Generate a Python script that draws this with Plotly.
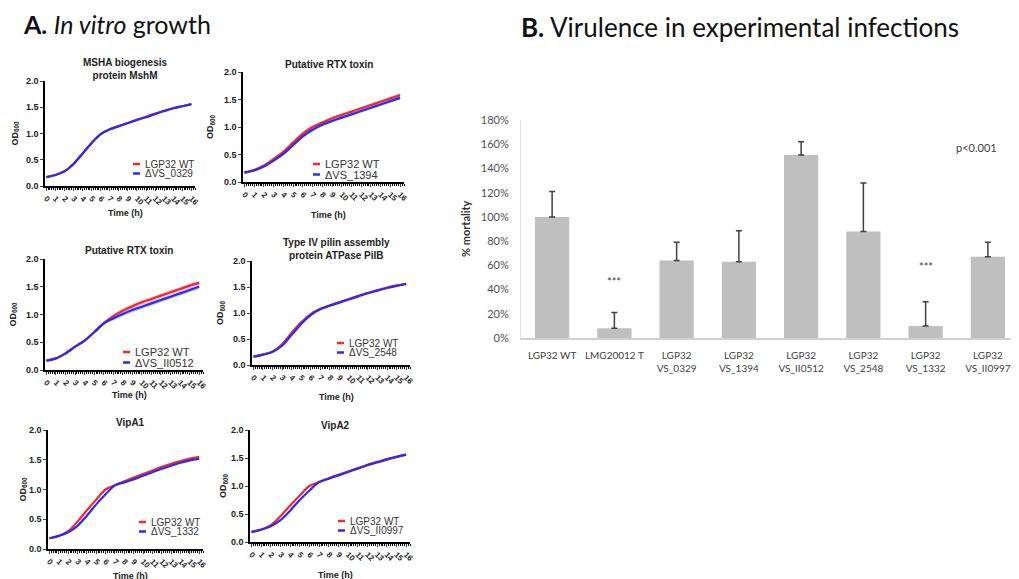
import plotly.graph_objects as go

W, H = 1019, 579
OFF = 8  # the page body adds an 8px margin around the plot div

# ---- panel A: growth curves, OD600 ----
HOURS = list(range(17))

wt_0329 = [0.17, 0.21, 0.28, 0.42, 0.62, 0.82, 0.99, 1.08, 1.14, 1.20, 1.26, 1.32, 1.38, 1.43, 1.48, 1.52, 1.56]
mut_0329 = [0.17, 0.21, 0.28, 0.42, 0.62, 0.82, 0.99, 1.08, 1.14, 1.20, 1.26, 1.31, 1.37, 1.43, 1.48, 1.52, 1.56]

wt_1394 = [0.17, 0.22, 0.30, 0.42, 0.55, 0.72, 0.88, 1.00, 1.08, 1.16, 1.22, 1.28, 1.34, 1.40, 1.46, 1.52, 1.58]
mut_1394 = [0.17, 0.21, 0.28, 0.39, 0.51, 0.67, 0.83, 0.95, 1.04, 1.11, 1.17, 1.23, 1.29, 1.35, 1.41, 1.47, 1.53]
sd_1394 = [0.01, 0.01, 0.01, 0.02, 0.02, 0.02, 0.03, 0.03, 0.03, 0.03, 0.03, 0.03, 0.03, 0.03, 0.03, 0.03, 0.03]

wt_0512 = [0.17, 0.21, 0.30, 0.42, 0.53, 0.68, 0.84, 0.97, 1.07, 1.15, 1.22, 1.28, 1.34, 1.40, 1.46, 1.52, 1.57]
mut_0512 = [0.17, 0.21, 0.30, 0.42, 0.53, 0.68, 0.84, 0.93, 1.01, 1.08, 1.14, 1.20, 1.26, 1.32, 1.38, 1.44, 1.50]
sd_0512 = [0.01, 0.01, 0.01, 0.01, 0.02, 0.02, 0.03, 0.04, 0.04, 0.04, 0.04, 0.04, 0.04, 0.04, 0.04, 0.04, 0.04]

wt_2548 = [0.16, 0.20, 0.26, 0.40, 0.62, 0.82, 0.98, 1.08, 1.15, 1.21, 1.27, 1.33, 1.39, 1.44, 1.49, 1.53, 1.56]
mut_2548 = [0.16, 0.20, 0.25, 0.37, 0.58, 0.79, 0.96, 1.07, 1.14, 1.20, 1.26, 1.32, 1.38, 1.43, 1.48, 1.52, 1.56]

wt_1332 = [0.18, 0.22, 0.30, 0.46, 0.65, 0.83, 1.00, 1.07, 1.14, 1.20, 1.26, 1.32, 1.38, 1.43, 1.48, 1.52, 1.55]
mut_1332 = [0.18, 0.22, 0.28, 0.39, 0.56, 0.75, 0.92, 1.07, 1.12, 1.17, 1.23, 1.29, 1.35, 1.40, 1.45, 1.49, 1.52]

wt_0997 = [0.18, 0.22, 0.30, 0.46, 0.65, 0.83, 1.00, 1.07, 1.14, 1.20, 1.26, 1.32, 1.38, 1.43, 1.48, 1.52, 1.56]
mut_0997 = [0.18, 0.22, 0.28, 0.39, 0.56, 0.75, 0.92, 1.07, 1.13, 1.19, 1.25, 1.31, 1.37, 1.42, 1.47, 1.52, 1.56]

growth_titles = ["MSHA biogenesis<br>protein MshM", "Putative RTX toxin", "Putative RTX toxin",
                 "Type IV pilin assembly<br>protein ATPase PilB", "VipA1", "VipA2"]
mutant_names = ["ΔVS_0329", "ΔVS_1394", "ΔVS_II0512", "ΔVS_2548", "ΔVS_1332", "ΔVS_II0997"]
wt_series = [wt_0329, wt_1394, wt_0512, wt_2548, wt_1332, wt_0997]
mut_series = [mut_0329, mut_1394, mut_0512, mut_2548, mut_1332, mut_0997]
sd_series = [None, sd_1394, sd_0512, None, None, None]

# ---- panel B: mortality ----
strains = ["LGP32 WT", "LMG20012 T", "LGP32<br>VS_0329", "LGP32<br>VS_1394", "LGP32<br>VS_II0512",
           "LGP32<br>VS_2548", "LGP32<br>VS_1332", "LGP32<br>VS_II0997"]
mortality = [1.00, 0.08, 0.64, 0.63, 1.51, 0.88, 0.10, 0.67]
err_top = [1.21, 0.21, 0.79, 0.885, 1.62, 1.28, 0.30, 0.79]

RED = "#f2262c"
BLUE = "#2b2bf0"


def px(x):
    return (x - OFF) / W


def py(y):
    return 1 - (y - OFF) / H


def note(x, y, text, size, color="#222", family="Liberation Sans", xanchor="center", angle=0):
    return dict(x=px(x), y=py(y), xref="paper", yref="paper", xanchor=xanchor, yanchor="middle",
                text=text, textangle=angle, showarrow=False,
                font=dict(family=family, size=size, color=color))


# pixel boxes of the six growth plots: x0, x1, ytop, ybottom
boxes = [(45, 195, 81, 186), (243, 404, 72, 182), (45, 203, 259, 370),
         (252, 410, 261, 365), (48, 203, 430, 549), (250, 410, 430, 542)]
title_y = [69, 64, 251, 249, 422, 425]
ylab_x = [15, 210, 13, 220, 23, 223]
time_y = [213, 215, 395, 397, 576, 575]
legend_pos = [(143, 164, 10), (323, 164, 11), (133, 352, 11), (347, 343, 10), (149, 522, 10), (348, 521, 10)]

fig = go.Figure()
layout = dict(width=W, height=H, margin=dict(l=0, r=0, t=0, b=0, autoexpand=False),
              plot_bgcolor="white", paper_bgcolor="white", showlegend=False)
annotations = []
shapes = []

for i in range(6):
    n = i + 1
    xa, ya = ("x" if n == 1 else f"x{n}"), ("y" if n == 1 else f"y{n}")
    x0, x1, yt, yb = boxes[i]

    for series, color in ((wt_series[i], RED), (mut_series[i], BLUE)):
        sd = sd_series[i]
        if sd is not None:
            fill_col = "rgba(242,38,44,0.25)" if color == RED else "rgba(43,43,240,0.25)"
            fig.add_trace(go.Scatter(x=HOURS, y=[v + s for v, s in zip(series, sd)], mode="lines",
                                     line=dict(width=0, shape="spline"), xaxis=xa, yaxis=ya, hoverinfo="skip"))
            fig.add_trace(go.Scatter(x=HOURS, y=[v - s for v, s in zip(series, sd)], mode="lines",
                                     line=dict(width=0, shape="spline"), fill="tonexty", fillcolor=fill_col,
                                     xaxis=xa, yaxis=ya, hoverinfo="skip"))
        fig.add_trace(go.Scatter(x=HOURS, y=series, mode="lines",
                                 line=dict(color=color, width=2.2, shape="spline"),
                                 xaxis=xa, yaxis=ya))

    layout["xaxis" if n == 1 else f"xaxis{n}"] = dict(
        domain=[px(x0), px(x1)], range=[-0.15, 16.4], anchor=ya, automargin=False,
        tickvals=HOURS, tickangle=45,
        tickfont=dict(family="Liberation Sans", size=8, color="#222", weight="bold"),
        showline=True, linecolor="black", linewidth=1.5, ticks="outside", ticklen=3, tickwidth=1,
        minor=dict(dtick=0.2, ticks="outside", ticklen=2, tickcolor="black"),
        showgrid=False, zeroline=False)
    layout["yaxis" if n == 1 else f"yaxis{n}"] = dict(
        domain=[py(yb), py(yt)], range=[0, 2.0], anchor=xa, automargin=False,
        tickvals=[0, 0.5, 1.0, 1.5, 2.0], ticktext=["0.0", "0.5", "1.0", "1.5", "2.0"],
        tickfont=dict(family="Liberation Sans", size=9, color="#222", weight="bold"),
        showline=True, linecolor="black", linewidth=1.5, ticks="outside", ticklen=3,
        showgrid=False, zeroline=False)

    cx = (x0 + x1) / 2
    annotations.append(note(cx + 5, title_y[i], f"<b>{growth_titles[i]}</b>", 10))
    annotations.append(note(ylab_x[i], (yt + yb) / 2, "<b>OD<sub>600</sub></b>", 9, angle=-90))
    annotations.append(note(cx + 5, time_y[i], "<b>Time (h)</b>", 9))
    lx, ly, fs = legend_pos[i]
    for k, (label, color) in enumerate((("LGP32 WT", RED), (mutant_names[i], BLUE))):
        yy = ly + k * (fs - 0.5)
        annotations.append(note(lx, yy, label, fs, color="#333", xanchor="left"))
        shapes.append(dict(type="line", xref="paper", yref="paper", x0=px(lx - 10), x1=px(lx - 3),
                           y0=py(yy), y1=py(yy), line=dict(color=color, width=2.5)))

# ---- bar chart ----
fig.add_trace(go.Bar(x=strains, y=mortality, width=0.55, marker=dict(color="#bfbfbf", line=dict(width=0)),
                     error_y=dict(type="data", symmetric=False,
                                  array=[t - v for t, v in zip(err_top, mortality)],
                                  arrayminus=[0] * len(mortality),
                                  color="#404040", thickness=1.5, width=3),
                     xaxis="x7", yaxis="y7"))
layout["xaxis7"] = dict(domain=[px(521), px(1019)], anchor="y7", type="category", automargin=False,
                        tickfont=dict(family="Lato", size=10, color="#404040"), ticklabelstandoff=7,
                        showline=True, linecolor="#d0d0d0", linewidth=1.5, ticks="", showgrid=False)
layout["yaxis7"] = dict(domain=[py(338), py(120)], anchor="x7", range=[0, 1.8], dtick=0.2, automargin=False,
                        tickformat=".0%", tickfont=dict(family="Lato", size=11, color="#505050"),
                        ticklabelstandoff=9,
                        showline=True, linecolor="#e0e0e0", linewidth=1, ticks="", showgrid=False,
                        zeroline=False)

for cat, yv in ((strains[1], 0.47), (strains[6], 0.59)):
    annotations.append(dict(x=cat, y=yv, xref="x7", yref="y7", text="***", showarrow=False,
                            xanchor="center", yanchor="middle",
                            font=dict(family="Lato", size=11, color="#404040")))
annotations.append(dict(x=px(976), y=1.575, xref="paper", yref="y7", text="p<0.001", showarrow=False,
                        xanchor="center", yanchor="middle",
                        font=dict(family="Lato", size=11, color="#404040")))
annotations.append(note(466, 229, "<b>% mortality</b>", 11, color="#333", family="Lato", angle=-90))

# panel headers
annotations.append(note(21, 24, "<b>A.</b> <i>In vitro</i> growth", 25, color="#111", family="Lato",
                        xanchor="left"))
annotations.append(note(519, 27, "<b>B.</b> Virulence in experimental infections", 26, color="#111",
                        family="Lato", xanchor="left"))

layout["annotations"] = annotations
layout["shapes"] = shapes
fig.update_layout(**layout)
fig.write_html("out.html")
